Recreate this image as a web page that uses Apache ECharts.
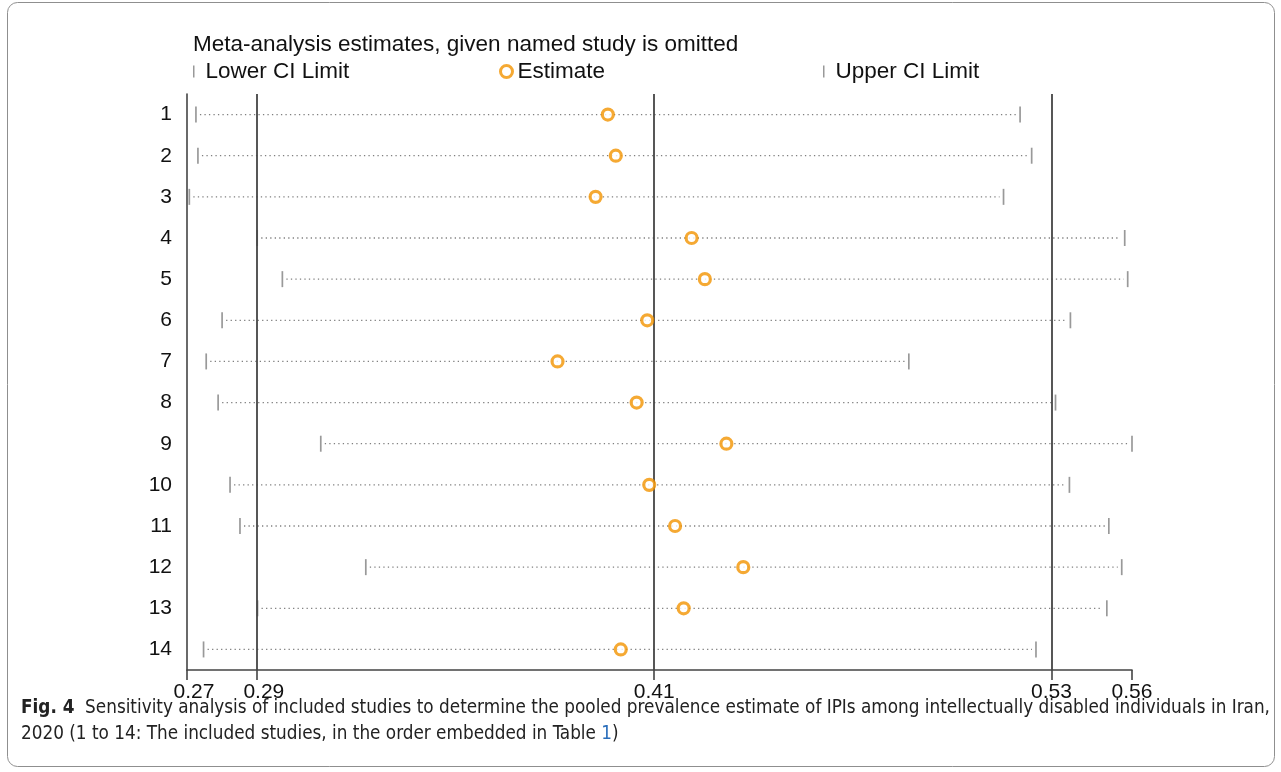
<!DOCTYPE html>
<html>
<head>
    <meta charset="UTF-8">
    <title>sensitivity</title>
    <style>
        html, body { margin: 0; padding: 0; background: #fff; }
        #chartDom { width: 1281px; height: 772px; }
    </style>
</head>
<body>

<script src="https://cdn.jsdelivr.net/npm/echarts@6/dist/echarts.min.js"></script>

<div id="chartDom"></div>

<script type="text/javascript">
    // study numbers (rows, top to bottom)
    var studies = ['1', '2', '3', '4', '5', '6', '7', '8', '9', '10', '11', '12', '13', '14'];
    // pooled estimate when the named study is omitted
    var estimate = [0.3960, 0.3984, 0.3923, 0.4213, 0.4253, 0.4079, 0.3808, 0.4047, 0.4318, 0.4085, 0.4163, 0.4369, 0.4189, 0.3999];
    var lowerCI = [0.2716, 0.2722, 0.2696, 0.2901, 0.2977, 0.2795, 0.2747, 0.2783, 0.3093, 0.2819, 0.2849, 0.3229, 0.2902, 0.2739];
    var upperCI = [0.5205, 0.5240, 0.5155, 0.5521, 0.5530, 0.5357, 0.4869, 0.5312, 0.5543, 0.5354, 0.5473, 0.5512, 0.5467, 0.5253];
    // x axis ticks and their printed labels
    var tickValues = [0.2689, 0.29, 0.41, 0.53, 0.5543];
    var tickLabels = ['0.27', '0.29', '0.41', '0.53', '0.56'];
    // reference lines (lower CI, estimate, upper CI of the full analysis)
    var refLines = [0.29, 0.41, 0.53];

    var myChart = echarts.init(document.getElementById('chartDom'));

    var FONT = '"Liberation Sans", Arial, sans-serif';
    var CAPFONT = '"Liberation Sans Narrow", "DejaVu Sans Condensed", sans-serif';
    var ORANGE = '#f29400';

    var ciData = studies.map(function (s, i) { return [lowerCI[i], upperCI[i], s]; });
    var lowData = studies.map(function (s, i) { return [lowerCI[i], s]; });
    var upData = studies.map(function (s, i) { return [upperCI[i], s]; });
    var estData = studies.map(function (s, i) { return [estimate[i], s]; });

    var option = {
        animation: false,
        title: {
            text: 'Meta-analysis estimates, given named study is omitted',
            left: 188,
            top: 28,
            textStyle: { fontFamily: FONT, fontSize: 22.5, fontWeight: 'normal', color: '#111' }
        },
        legend: [
            {
                data: ['Lower CI Limit'], left: 188, top: 55,
                icon: 'rect', itemWidth: 1.5, itemHeight: 12,
                textStyle: { fontFamily: FONT, fontSize: 22.5, color: '#111', padding: [0, 0, 0, 6] }
            },
            {
                data: ['Estimate'], left: 494, top: 55,
                itemWidth: 12, itemHeight: 12,
                itemStyle: { color: '#fff', borderColor: ORANGE, borderWidth: 3 },
                textStyle: { fontFamily: FONT, fontSize: 22.5, color: '#111' }
            },
            {
                data: ['Upper CI Limit'], left: 818, top: 55,
                icon: 'rect', itemWidth: 1.5, itemHeight: 12,
                textStyle: { fontFamily: FONT, fontSize: 22.5, color: '#111', padding: [0, 0, 0, 6] }
            }
        ],
        grid: { left: 187, right: 149, top: 94, bottom: 102 },
        xAxis: {
            type: 'value',
            min: tickValues[0],
            max: tickValues[tickValues.length - 1],
            splitLine: { show: false },
            axisLine: { show: true, lineStyle: { color: '#444', width: 1.6 } },
            axisTick: { show: true, customValues: tickValues, length: 10, lineStyle: { color: '#444', width: 1.6 } },
            axisLabel: {
                customValues: tickValues,
                margin: 12,
                fontFamily: FONT, fontSize: 21, color: '#111',
                formatter: function (v) {
                    var i = tickValues.indexOf(v);
                    if (i < 0) return '';
                    if (i < 2) return '{s|' + tickLabels[i] + '}';
                    return tickLabels[i];
                },
                rich: { s: { fontFamily: FONT, fontSize: 21, color: '#111', padding: [0, 0, 0, 14] } }
            }
        },
        yAxis: {
            type: 'category',
            data: studies,
            inverse: true,
            axisLine: { show: true, lineStyle: { color: '#444', width: 1.6 } },
            axisTick: { show: false },
            axisLabel: { margin: 15, fontFamily: FONT, fontSize: 21, color: '#111' }
        },
        series: [
            {
                name: 'CI',
                type: 'custom',
                data: ciData,
                encode: { x: [0, 1], y: 2 },
                renderItem: function (params, api) {
                    var a = api.coord([api.value(0), api.value(2)]);
                    var b = api.coord([api.value(1), api.value(2)]);
                    return {
                        type: 'line',
                        shape: { x1: a[0] + 4, y1: a[1], x2: b[0] - 4, y2: b[1] },
                        style: { stroke: '#808080', lineWidth: 1.3, lineDash: [1.3, 3.2] }
                    };
                },
                silent: true
            },
            {
                name: 'Lower CI Limit',
                type: 'scatter',
                data: lowData,
                symbol: 'rect',
                symbolSize: [1.7, 16],
                itemStyle: { color: '#808080' },
                silent: true,
                markLine: {
                    silent: true,
                    symbol: 'none',
                    label: { show: false },
                    lineStyle: { color: '#444', type: 'solid', width: 1.8 },
                    data: refLines.map(function (v) { return { xAxis: v }; })
                }
            },
            {
                name: 'Upper CI Limit',
                type: 'scatter',
                data: upData,
                symbol: 'rect',
                symbolSize: [1.7, 16],
                itemStyle: { color: '#808080' },
                silent: true
            },
            {
                name: 'Estimate',
                type: 'scatter',
                data: estData,
                symbol: 'circle',
                symbolSize: 11,
                itemStyle: { color: '#fff', borderColor: ORANGE, borderWidth: 3.2 },
                z: 5,
                silent: true
            }
        ],
        graphic: [
            {
                type: 'rect',
                shape: { x: 7.5, y: 2.5, width: 1267, height: 764, r: 10 },
                style: { fill: 'none', stroke: '#8f8f8f', lineWidth: 1 },
                silent: true
            },
            {
                type: 'text',
                left: 21,
                top: 699,
                style: {
                    text: '{b|Fig. 4}  Sensitivity analysis of included studies to determine the pooled prevalence estimate of IPIs among intellectually disabled individuals in Iran,',
                    font: '18.75px ' + CAPFONT,
                    fill: '#222',
                    rich: { b: { font: 'bold 18.75px ' + CAPFONT, fill: '#222' } }
                }
            },
            {
                type: 'text',
                left: 21,
                top: 725,
                style: {
                    text: '2020 (1 to 14: The included studies, in the order embedded in Table {l|1})',
                    font: '18.75px ' + CAPFONT,
                    fill: '#222',
                    rich: { l: { font: '18.75px ' + CAPFONT, fill: '#2a6ebb' } }
                }
            }
        ]
    };

    myChart.setOption(option);
</script>
</body>
</html>
